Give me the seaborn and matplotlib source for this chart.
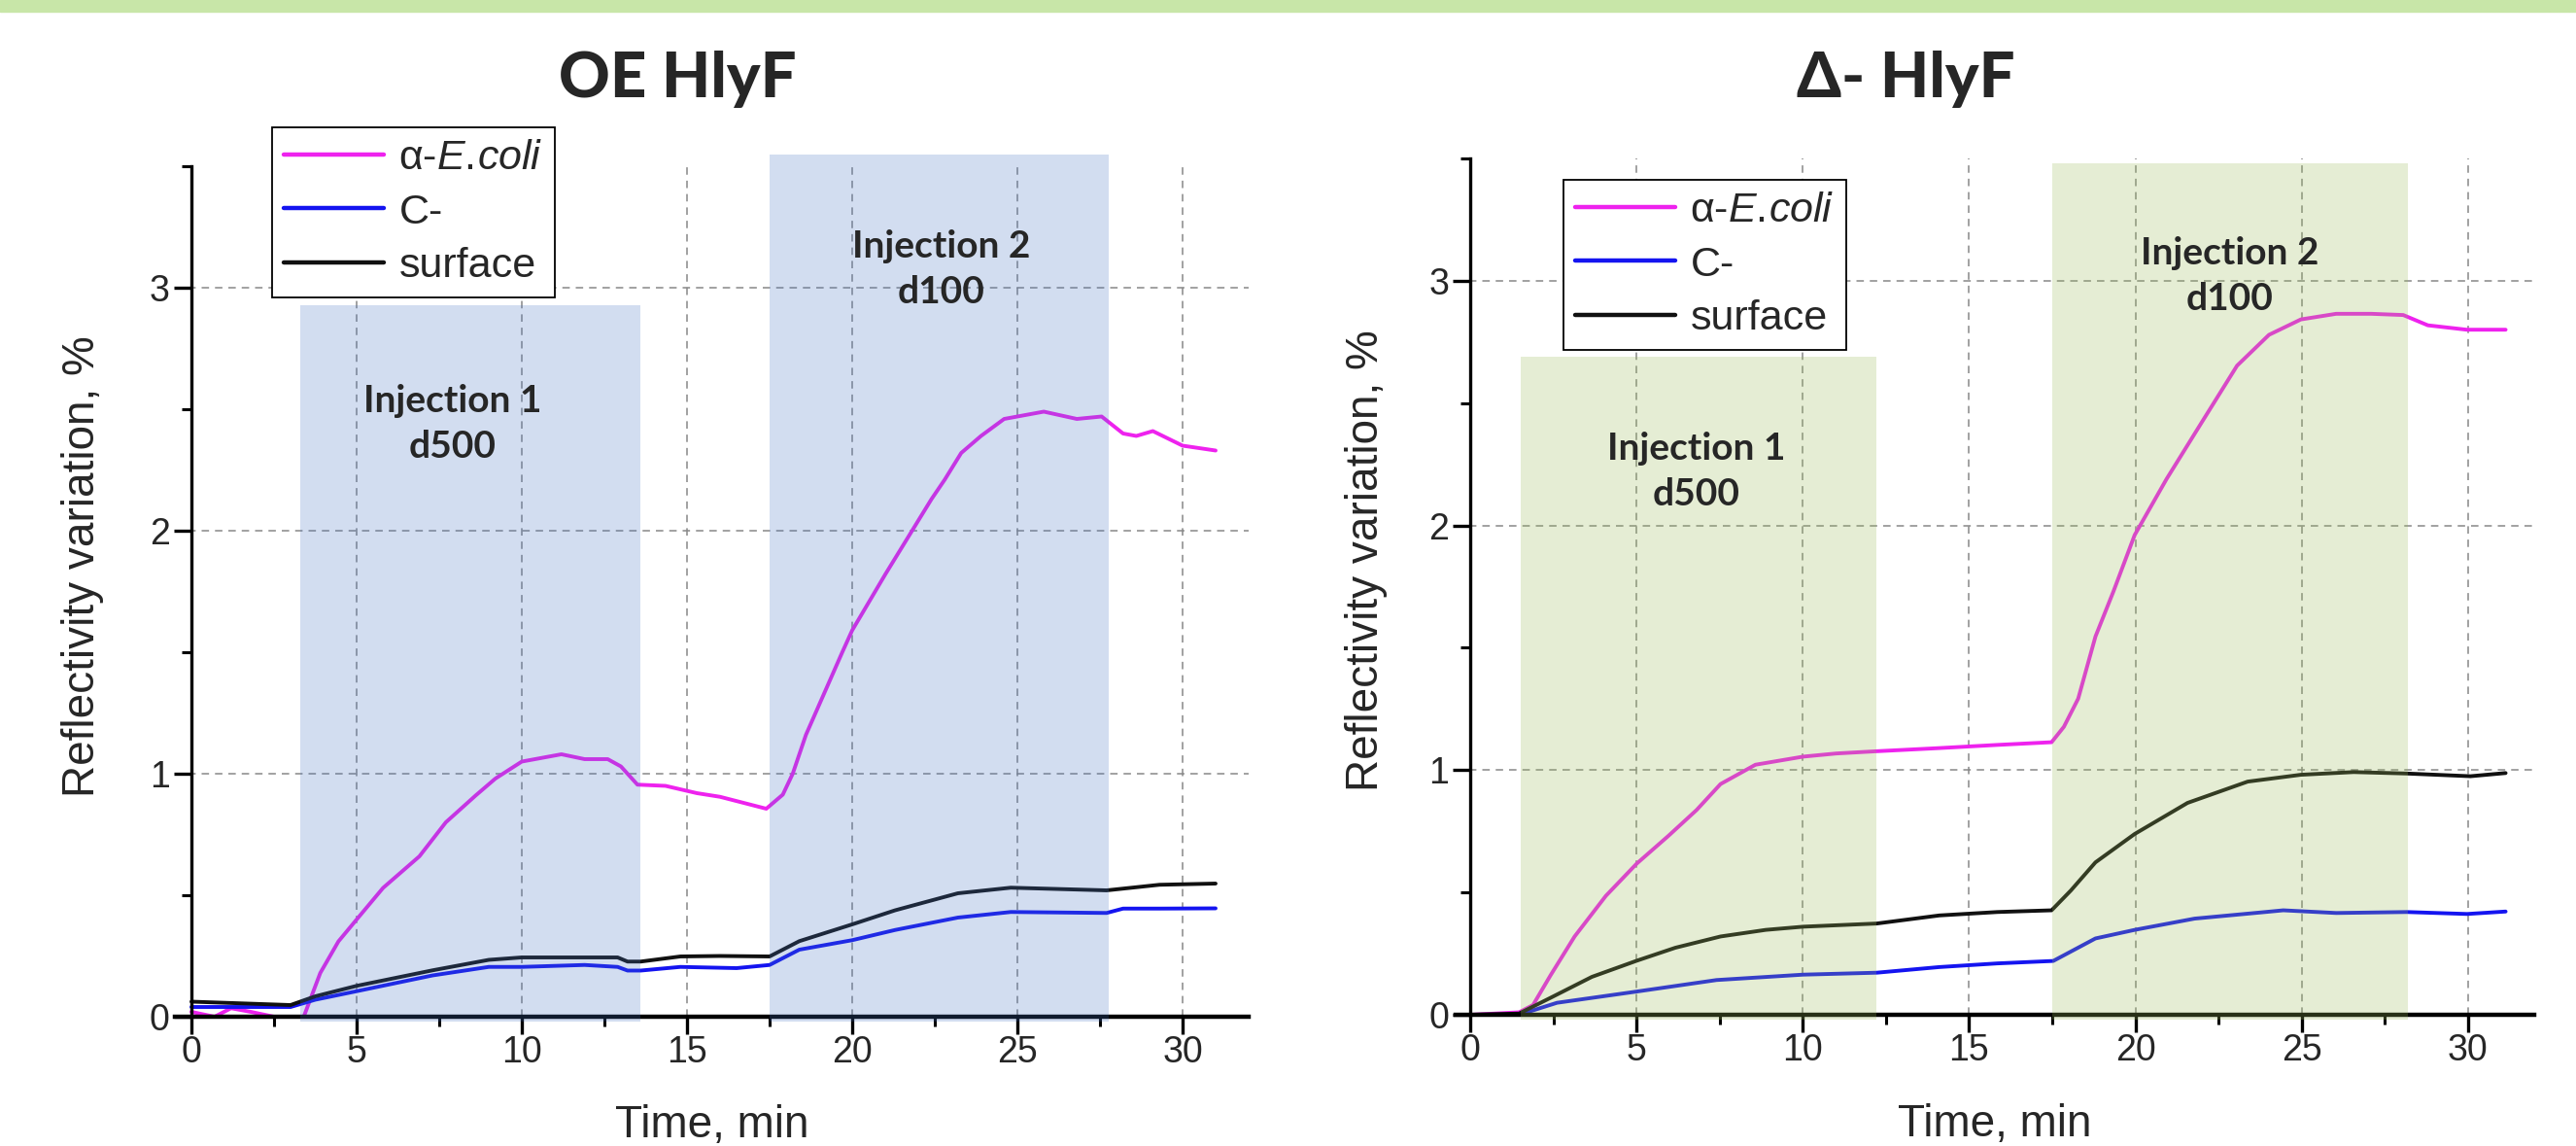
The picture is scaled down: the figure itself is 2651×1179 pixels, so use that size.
import matplotlib
matplotlib.use("Agg")
import matplotlib.pyplot as plt
from matplotlib.patches import Rectangle
from matplotlib.ticker import MultipleLocator
import seaborn as sns

# ---- data (time in min, reflectivity variation in %) ----
# OE HlyF
ecoli_t_oe = [0, 0.7, 1.2, 1.8, 2.5, 2.9, 3.4, 3.9, 4.45, 5.0, 5.8, 6.9, 7.7, 8.6, 9.2, 10.0, 11.2, 11.9,
              12.6, 13.0, 13.5, 14.35, 15.3, 16.0, 17.4, 17.9, 18.2, 18.6, 19.7, 20.0, 21.0, 22.4, 22.8,
              23.3, 23.9, 24.6, 25.8, 26.8, 27.55, 28.2, 28.6, 29.1, 30.0, 31.0]
ecoli_v_oe = [0.02, 0.0, 0.035, 0.02, 0.0, -0.03, 0.0, 0.18, 0.31, 0.40, 0.53, 0.66, 0.80, 0.91, 0.98, 1.05,
              1.08, 1.06, 1.06, 1.03, 0.955, 0.95, 0.92, 0.905, 0.856, 0.914, 1.0, 1.16, 1.5, 1.59, 1.82,
              2.13, 2.21, 2.32, 2.39, 2.46, 2.49, 2.46, 2.47, 2.40, 2.39, 2.41, 2.35, 2.33]
cneg_t_oe = [0, 3.0, 3.75, 5.0, 7.3, 9.0, 10.0, 11.9, 12.9, 13.2, 13.6, 14.8, 16.5, 17.5, 18.4, 20.0,
             21.3, 23.2, 24.8, 27.7, 28.2, 29.3, 31.0]
cneg_v_oe = [0.04, 0.04, 0.07, 0.105, 0.17, 0.205, 0.205, 0.213, 0.205, 0.19, 0.19, 0.205, 0.20, 0.213,
             0.276, 0.315, 0.357, 0.408, 0.431, 0.427, 0.445, 0.445, 0.446]
surf_t_oe = [0, 3.0, 3.75, 5.0, 7.3, 9.0, 10.0, 12.9, 13.2, 13.6, 14.8, 16.0, 17.5, 18.4, 20.0, 21.3,
             23.2, 24.8, 27.7, 29.3, 31.0]
surf_v_oe = [0.062, 0.048, 0.084, 0.127, 0.191, 0.234, 0.244, 0.244, 0.227, 0.227, 0.248, 0.25, 0.248,
             0.311, 0.38, 0.438, 0.508, 0.531, 0.52, 0.543, 0.548]

# Δ- HlyF
ecoli_t_d = [0, 1.46, 1.88, 2.4, 3.13, 4.07, 5.0, 5.95, 6.8, 7.52, 8.57, 10.0, 11.0, 12.2, 14.1, 15.85,
             17.48, 17.85, 18.28, 18.8, 19.34, 19.98, 20.94, 22.0, 23.06, 24.02, 24.98, 26.04, 27.1,
             28.06, 28.8, 29.97, 31.14]
ecoli_v_d = [0.0, 0.01, 0.04, 0.16, 0.32, 0.486, 0.618, 0.731, 0.837, 0.943, 1.022, 1.055, 1.068, 1.077,
             1.09, 1.103, 1.114, 1.177, 1.292, 1.546, 1.73, 1.961, 2.19, 2.422, 2.653, 2.779, 2.842,
             2.865, 2.865, 2.86, 2.818, 2.80, 2.80]
cneg_t_d = [0, 1.46, 2.6, 5.0, 7.4, 10.0, 12.22, 14.1, 15.85, 17.53, 18.8, 19.98, 21.78, 23.91, 24.45,
            26.04, 28.17, 29.98, 31.14]
cneg_v_d = [0.0, 0.0, 0.049, 0.095, 0.142, 0.164, 0.172, 0.195, 0.21, 0.22, 0.312, 0.347, 0.393, 0.42,
            0.427, 0.416, 0.42, 0.412, 0.422]
surf_t_d = [0, 1.46, 2.4, 3.65, 5.0, 6.16, 7.52, 8.88, 10.0, 12.22, 14.1, 15.85, 17.48, 18.06, 18.8,
            19.98, 21.57, 23.38, 24.98, 26.57, 28.17, 30.08, 31.14]
surf_v_d = [0.0, 0.005, 0.069, 0.155, 0.221, 0.274, 0.32, 0.347, 0.36, 0.373, 0.406, 0.42, 0.427, 0.508,
            0.623, 0.739, 0.866, 0.953, 0.981, 0.992, 0.986, 0.975, 0.988]

# injection windows: (start, end, top)
inj_oe = [(3.3, 13.6, 2.93), (17.5, 27.77, 3.55)]
inj_d = [(1.5, 12.2, 2.69), (17.5, 28.2, 3.48)]
inj_labels = ['Injection 1\nd500', 'Injection 2\nd100']
# (x centre, baseline of the second line)
inj_text_oe = [(7.9, 2.30), (22.7, 2.935)]
inj_text_d = [(6.8, 2.08), (22.85, 2.88)]

titles = ['OE HlyF', 'Δ- HlyF']
series_names = [r'α-$\mathit{E.\!coli}$', 'C-', 'surface']
colors = ['#ee22ee', '#1414f0', '#111111']

sns.set_theme(style='ticks')
plt.rcParams['font.family'] = ['Liberation Sans', 'DejaVu Sans']
plt.rcParams['mathtext.fontset'] = 'custom'
plt.rcParams['mathtext.rm'] = 'Liberation Sans'
plt.rcParams['mathtext.it'] = 'Liberation Sans:italic'

W, H = 2651, 1179
fig = plt.figure(figsize=(W / 100, H / 100), dpi=100)
fig.patches.append(Rectangle((0, 1 - 12 / H), 1, 12 / H, transform=fig.transFigure,
                             color='#c8e6a8', zorder=0))

panels = [
    dict(rect=[180 / W, 1 - 1046 / H, 1105 / W, 875 / H], xlim=(-0.5, 32), shade='#4472C4', alpha=0.24,
         inj=inj_oe, txt=inj_text_oe, leg=(280 / W, 1 - 131 / H), title_x=697 / W, ylab_x=-0.066,
         data=[(ecoli_t_oe, ecoli_v_oe), (cneg_t_oe, cneg_v_oe), (surf_t_oe, surf_v_oe)]),
    dict(rect=[1498 / W, 1 - 1044 / H, 1110 / W, 881 / H], xlim=(-0.45, 32), shade='#9BBB59', alpha=0.26,
         inj=inj_d, txt=inj_text_d, leg=(1609 / W, 1 - 185 / H), title_x=1961 / W, ylab_x=-0.063,
         data=[(ecoli_t_d, ecoli_v_d), (cneg_t_d, cneg_v_d), (surf_t_d, surf_v_d)]),
]

for p, title in zip(panels, titles):
    ax = fig.add_axes(p['rect'])
    for (t, v), name, c in zip(p['data'], series_names, colors):
        sns.lineplot(x=t, y=v, ax=ax, color=c, lw=2.8, label=name, zorder=2)

    for (x0, x1, top) in p['inj']:
        ax.add_patch(Rectangle((x0, -0.02), x1 - x0, top + 0.02, facecolor=p['shade'],
                               alpha=p['alpha'], edgecolor='none', zorder=3, clip_on=False))
    for (tx, ty), lab in zip(p['txt'], inj_labels):
        ax.text(tx, ty, lab, ha='center', va='baseline', fontsize=28, fontweight='bold',
                family=['Lato', 'DejaVu Sans'], linespacing=1.42, zorder=4)

    ax.set_xlim(*p['xlim'])
    ax.set_ylim(0, 3.5)
    ax.xaxis.set_major_locator(MultipleLocator(5))
    ax.xaxis.set_minor_locator(MultipleLocator(2.5))
    ax.yaxis.set_major_locator(MultipleLocator(1))
    ax.yaxis.set_minor_locator(MultipleLocator(0.5))
    ax.set_xticks([0, 5, 10, 15, 20, 25, 30])
    ax.set_yticks([0, 1, 2, 3])
    ax.grid(True, which='major', color='#888888', lw=1.1, ls=(0, (5, 4)))
    ax.set_axisbelow('line')

    sns.despine(ax=ax)
    ax.spines['left'].set_position(('data', 0))
    ax.spines['left'].set_linewidth(2.4)
    ax.spines['bottom'].set_linewidth(3.2)
    ax.spines['left'].set_color('black')
    ax.spines['bottom'].set_color('black')
    ax.tick_params(which='major', direction='out', length=13, width=2.4, color='black', labelsize=27)
    ax.tick_params(which='minor', direction='out', length=7, width=2.2, color='black')
    ax.tick_params(axis='x', which='major', pad=1)
    ax.tick_params(axis='y', which='major', pad=3)

    ax.set_xlabel('Time, min', fontsize=33)
    ax.set_ylabel('Reflectivity variation, %', fontsize=33)
    ax.xaxis.set_label_coords(0.5, -0.103)
    ax.yaxis.set_label_coords(p['ylab_x'], 0.53)

    leg = ax.legend(loc='upper left', bbox_to_anchor=p['leg'], bbox_transform=fig.transFigure,
                    borderaxespad=0, fontsize=31, handlelength=2.4, handletextpad=0.35,
                    labelspacing=0.36, borderpad=0.28, fancybox=False, framealpha=1)
    leg.get_frame().set_edgecolor('black')
    leg.get_frame().set_linewidth(1.3)
    leg.set_zorder(6)
    for h in leg.get_lines():
        h.set_linewidth(3.2)

    fig.text(p['title_x'], 1 - 100 / H, title, ha='center', va='baseline', fontsize=47,
             fontweight='black', family=['Lato', 'DejaVu Sans'])

fig.savefig('out.png', dpi=100)
